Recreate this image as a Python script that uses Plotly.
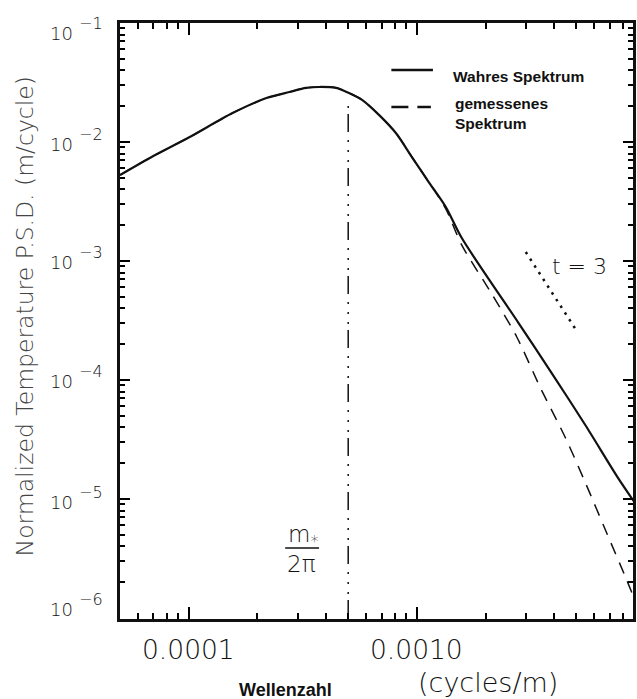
import math
import plotly.graph_objects as go

# True spectrum: wavenumber (cycles/m) and normalized temperature PSD (m/cycle)
wavenumber_true = [5.0e-5, 6.76e-5, 1.01e-4, 1.556e-4, 2.19e-4, 2.76e-4, 3.27e-4,
                   3.73e-4, 4.43e-4, 5.04e-4, 5.75e-4, 6.82e-4, 8.09e-4, 9.51e-4,
                   1.127e-3, 1.339e-3, 1.573e-3, 2.79e-3, 3.89e-3, 5.47e-3,
                   7.62e-3, 9.04e-3]
psd_true = [5.28e-3, 7.35e-3, 1.10e-2, 1.75e-2, 2.34e-2, 2.63e-2, 2.85e-2,
            2.90e-2, 2.85e-2, 2.58e-2, 2.26e-2, 1.69e-2, 1.19e-2, 7.48e-3,
            4.61e-3, 2.84e-3, 1.56e-3, 3.01e-4, 1.15e-4, 4.19e-5,
            1.50e-5, 9.24e-6]

# Measured spectrum
wavenumber_meas = [5.0e-5, 6.76e-5, 1.01e-4, 1.556e-4, 2.19e-4, 2.76e-4, 3.27e-4,
                   3.73e-4, 4.43e-4, 5.04e-4, 5.75e-4, 6.82e-4, 8.09e-4, 9.51e-4,
                   1.127e-3, 1.339e-3, 1.573e-3, 2.13e-3, 2.74e-3, 3.48e-3,
                   4.48e-3, 5.53e-3, 6.76e-3, 8.27e-3, 8.95e-3]
psd_meas = [5.28e-3, 7.35e-3, 1.10e-2, 1.75e-2, 2.34e-2, 2.63e-2, 2.85e-2,
            2.90e-2, 2.85e-2, 2.58e-2, 2.26e-2, 1.69e-2, 1.19e-2, 7.48e-3,
            4.61e-3, 2.74e-3, 1.36e-3, 5.28e-4, 2.30e-4, 8.57e-5,
            3.26e-5, 1.31e-5, 5.28e-6, 2.13e-6, 1.47e-6]

# Characteristic wavenumber m*/2pi marker
m_star_x = [5.0e-4, 5.0e-4]
m_star_y = [1.0e-6, 2.15e-2]

# Reference slope t = 3
slope_x = [3.0e-3, 4.95e-3]
slope_y = [1.19e-3, 2.69e-4]

# Axis ticks
X_RANGE = [-4.301, -2.053]
Y_RANGE = [-6.008, -1.0]
x_major = [1e-4, 1e-3]
x_major_text = ["0.0001", "0.0010"]
y_major = [1e-6, 1e-5, 1e-4, 1e-3, 1e-2, 1e-1]
y_major_base = ["10"] * 6
y_major_exp = ["\u22126", "\u22125", "\u22124", "\u22123", "\u22122", "\u22121"]
# vertical nudges (px) of the power labels; end labels are pulled inward
y_label_shift = [9, -3, -1, -1, -2, -10]
x_minor = [d * 10.0 ** e for e in (-5, -4, -3) for d in range(2, 10)]
y_minor = [d * 10.0 ** e for e in (-6, -5, -4, -3, -2) for d in range(2, 10)]

PLOT_FONT = "DejaVu Sans"
INK = "#111111"

fig = go.Figure()

fig.add_trace(go.Scatter(
    x=wavenumber_true, y=psd_true, mode="lines",
    line=dict(color=INK, width=2.2, shape="spline", smoothing=0.8),
    showlegend=False))

fig.add_trace(go.Scatter(
    x=wavenumber_meas, y=psd_meas, mode="lines",
    line=dict(color=INK, width=1.5, dash="12px,9px", shape="spline", smoothing=0.8),
    showlegend=False))

fig.add_trace(go.Scatter(
    x=m_star_x, y=m_star_y, mode="lines",
    line=dict(color=INK, width=1.5, dash="18px,6px,2px,8px,2px,8px,2px,8px"),
    showlegend=False))

fig.add_trace(go.Scatter(
    x=slope_x, y=slope_y, mode="lines",
    line=dict(color=INK, width=2.5, dash="2.5px,5.5px"),
    showlegend=False))

# an invisible copy of the true spectrum that carries the minor-tick axes
fig.add_trace(go.Scatter(x=wavenumber_true, y=psd_true, xaxis="x2", yaxis="y2",
                         mode="lines", line=dict(width=0), opacity=0,
                         showlegend=False, hoverinfo="skip"))


def label(text, x, y, size, xanchor="center", family=PLOT_FONT, weight=300,
          color=INK, xref="paper", yref="paper", **kw):
    return dict(text=text, xref=xref, yref=yref, x=x, y=y,
                xanchor=xanchor, yanchor="middle", showarrow=False,
                font=dict(family=family, size=size, color=color, weight=weight), **kw)


annotations = [
    label("Normalized Temperature P.S.D. (m/cycle)", -0.186, 0.507, 23.5,
          color="#444444", textangle=-90),
    label("<b>Wellenzahl</b>", 0.322, -0.119, 18, family="Liberation Sans",
          weight="normal"),
    label("(cycles/m)", 0.717, -0.106, 27),
    label("t = 3", 0.839, 0.591, 22, xanchor="left"),
    label("m<sub>*</sub>", 0.357, 0.140, 23),
    label("2\u03c0", 0.354, 0.092, 23),
    label("Wahres Spektrum", 0.645, 0.910, 15.5, xanchor="left",
          family="Liberation Sans", weight="bold"),
    label("gemessenes<br>Spektrum", 0.649, 0.848, 15.5, xanchor="left",
          family="Liberation Sans", weight="bold", align="left"),
]

# tick labels, placed through the axis scales (log axes take log10 positions)
for val, txt in zip(x_major, x_major_text):
    annotations.append(label(txt, math.log10(val), -0.052, 26.5, xref="x"))
for val, base, exp, dy in zip(y_major, y_major_base, y_major_exp, y_label_shift):
    annotations.append(label(base, -0.0872, math.log10(val), 18, xanchor="right",
                             yref="y", yshift=dy))
    annotations.append(label(exp, -0.0833, math.log10(val), 16, xanchor="left",
                             yref="y", yshift=dy + 10))

shapes = [
    # legend keys
    dict(type="line", xref="paper", yref="paper", x0=0.529, x1=0.610, y0=0.921, y1=0.921,
         line=dict(color=INK, width=2.5)),
    dict(type="line", xref="paper", yref="paper", x0=0.529, x1=0.606, y0=0.859, y1=0.859,
         line=dict(color=INK, width=2.5, dash="17px,9px")),
    # fraction bar of m*/2pi
    dict(type="line", xref="paper", yref="paper", x0=0.322, x1=0.388, y0=0.119, y1=0.119,
         line=dict(color=INK, width=1.5)),
]

fig.update_layout(
    width=637, height=699,
    margin=dict(l=120, r=1, t=23, b=80),
    paper_bgcolor="white", plot_bgcolor="white",
    showlegend=False,
    annotations=annotations,
    shapes=shapes,
    xaxis=dict(
        type="log", range=X_RANGE,
        tickmode="array", tickvals=x_major, showticklabels=False,
        ticks="inside", ticklen=12, tickwidth=2, tickcolor="black",
        showline=True, linewidth=3, linecolor=INK, mirror="ticks",
        showgrid=False, zeroline=False,
    ),
    yaxis=dict(
        type="log", range=Y_RANGE,
        tickmode="array", tickvals=y_major, showticklabels=False,
        ticks="inside", ticklen=10, tickwidth=2, tickcolor="black",
        showline=True, linewidth=3, linecolor=INK, mirror="ticks",
        showgrid=False, zeroline=False,
    ),
    # minor ticks drawn on overlaid axes sharing the same ranges
    xaxis2=dict(
        type="log", range=X_RANGE, overlaying="x", anchor="y2", side="bottom",
        tickmode="array", tickvals=x_minor, showticklabels=False,
        ticks="inside", ticklen=6, tickwidth=1.5, tickcolor="black", mirror="ticks",
        showline=False, showgrid=False, zeroline=False,
    ),
    yaxis2=dict(
        type="log", range=Y_RANGE, overlaying="y", anchor="x2", side="left",
        tickmode="array", tickvals=y_minor, showticklabels=False,
        ticks="inside", ticklen=5, tickwidth=1.5, tickcolor="black", mirror="ticks",
        showline=False, showgrid=False, zeroline=False,
    ),
)

fig.write_html("out.html")
